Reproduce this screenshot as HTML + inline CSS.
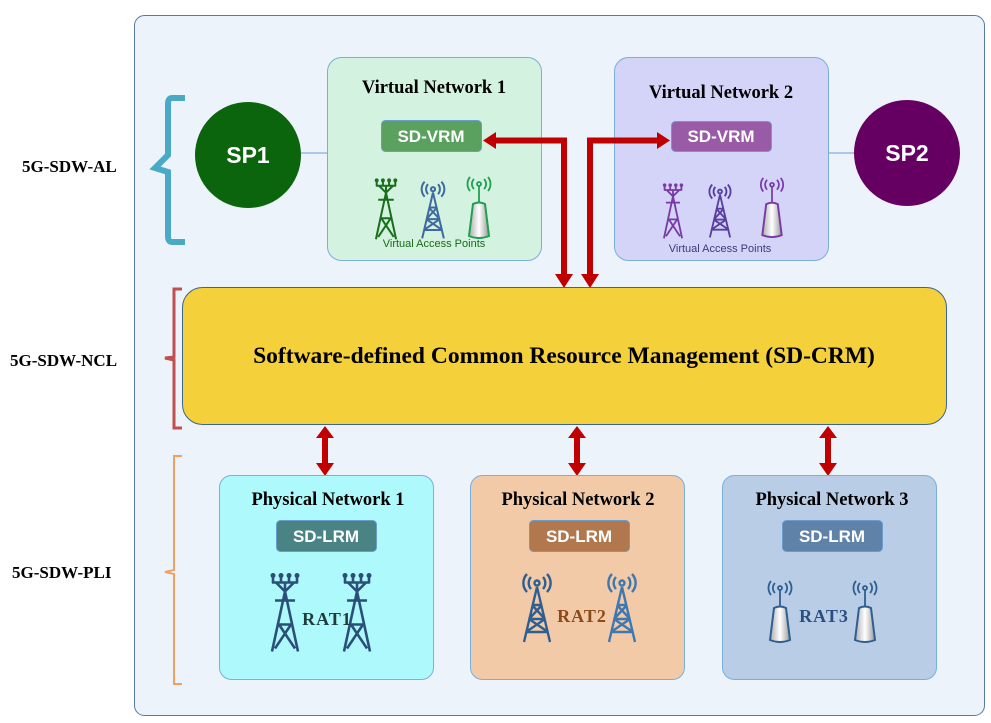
<!DOCTYPE html>
<html><head><meta charset="utf-8"><style>
html,body{margin:0;padding:0;background:#fff}
svg{display:block}
.t{font-family:"Liberation Serif",serif;font-weight:bold}
.s{font-family:"Liberation Sans",sans-serif;font-weight:bold;fill:#fff}
</style></head><body>
<svg width="991" height="723" viewBox="0 0 991 723" xmlns="http://www.w3.org/2000/svg">
<defs>
<symbol id="lat" viewBox="0 0 30 80">
 <g fill="none" stroke="currentColor" stroke-width="2.6" stroke-linejoin="round">
  <path d="M3 3V10H27V3M11 3V10M19 3V10M6 10L15 19L24 10M15 10V28M5 28H25M15 19L2 79M15 19L28 79M9 52L25 76M21 52L5 76M8 52H22"/>
 </g>
 <g fill="currentColor"><circle cx="3" cy="3" r="2.5"/><circle cx="11" cy="3" r="2.5"/><circle cx="19" cy="3" r="2.5"/><circle cx="27" cy="3" r="2.5"/></g>
</symbol>
<symbol id="rad" viewBox="0 0 34 72">
 <g fill="none" stroke="currentColor" stroke-width="2.4" stroke-linejoin="round">
  <circle cx="17" cy="11" r="2.5"/>
  <path d="M11 5A9 9 0 0 0 11 17M23 5A9 9 0 0 1 23 17M7 2A13 13 0 0 0 7 20M27 2A13 13 0 0 1 27 20"/>
  <path d="M17 15L4 70M17 15L30 70M12 33H22M9 47H25M6 60H28M12 33L25 47M22 33L9 47M9 47L28 60M25 47L6 60"/>
 </g>
</symbol>
<linearGradient id="rg" x1="0" x2="1"><stop offset="0" stop-color="#aaa"/><stop offset=".5" stop-color="#fff"/><stop offset="1" stop-color="#999"/></linearGradient>
<symbol id="rtr" viewBox="0 0 26 64">
 <g fill="none" stroke="currentColor" stroke-width="1.8">
  <circle cx="13" cy="8" r="2"/>
  <path d="M8 3A7 7 0 0 0 8 13M18 3A7 7 0 0 1 18 13M4 1A11 11 0 0 0 4 15M22 1A11 11 0 0 1 22 15"/>
  <path d="M13 10V28"/>
 </g>
 <path d="M7 28Q13 25 19 28L23 60Q13 64 3 60Z" fill="url(#rg)" stroke="currentColor" stroke-width="2"/>
</symbol>
</defs>

<rect x="134.5" y="15.5" width="850" height="700" rx="10" fill="#edf3fb" stroke="#557aa6"/>

<text class="t" x="22" y="172" font-size="17">5G-SDW-AL</text>
<text class="t" x="10" y="366" font-size="17">5G-SDW-NCL</text>
<text class="t" x="12" y="578" font-size="17">5G-SDW-PLI</text>

<path d="M185 98H172Q168 98 168 104V155L155 168L168 172V236Q168 242 172 242H185" fill="none" stroke="#4aaac6" stroke-width="6"/>
<path d="M182 289H174V357L165 358L174 360V428H182" fill="none" stroke="#c05050" stroke-width="3"/>
<path d="M182 456H174V570L165 572L174 574V684H182" fill="none" stroke="#f0a060" stroke-width="2"/>

<line x1="300" y1="153" x2="328" y2="153" stroke="#6a9ccc"/>
<line x1="826" y1="153" x2="855" y2="153" stroke="#6a9ccc"/>

<rect x="327.5" y="57.5" width="214" height="203" rx="14" fill="#d3f2df" stroke="#7aaedb"/>
<rect x="614.5" y="57.5" width="214" height="203" rx="14" fill="#d4d4f9" stroke="#7aaedb"/>
<text class="t" x="434" y="93" font-size="18.5" text-anchor="middle">Virtual Network 1</text>
<text class="t" x="721" y="98" font-size="18.5" text-anchor="middle">Virtual Network 2</text>
<rect x="381.5" y="120.5" width="100" height="31" rx="4" fill="#5aa05e" stroke="#6a9ccc"/>
<text class="s" x="431" y="142" font-size="17" text-anchor="middle">SD-VRM</text>
<rect x="671.5" y="121.5" width="100" height="30" rx="4" fill="#995aa6" stroke="#6a9ccc"/>
<text class="s" x="721" y="142" font-size="17" text-anchor="middle">SD-VRM</text>

<use href="#lat" x="372" y="178" width="28" height="62" style="color:#1b6e1b"/>
<use href="#rad" x="418" y="180" width="30" height="60" style="color:#3f6aa0"/>
<use href="#rtr" x="466" y="176" width="26" height="64" style="color:#1fa050"/>
<text x="434" y="247" font-size="11" text-anchor="middle" fill="#1a6a1a" font-family="Liberation Sans,sans-serif">Virtual Access Points</text>
<use href="#lat" x="660" y="183" width="26" height="56" style="color:#7a3aa6"/>
<use href="#rad" x="705" y="183" width="30" height="56" style="color:#5a3fa0"/>
<use href="#rtr" x="759" y="177" width="26" height="62" style="color:#7a3aa6"/>
<text x="720" y="252" font-size="11" text-anchor="middle" fill="#3a3a7a" font-family="Liberation Sans,sans-serif">Virtual Access Points</text>

<circle cx="248" cy="155" r="53" fill="#0a650d"/>
<text class="s" x="248" y="163" font-size="23" text-anchor="middle">SP1</text>
<circle cx="907" cy="153" r="53" fill="#650062"/>
<text class="s" x="907" y="161" font-size="23" text-anchor="middle">SP2</text>

<g fill="#c00000" stroke="none">
 <path d="M494 137.5H567V277H561V143.5H494Z"/>
 <path d="M483 140.5L496 132V149Z"/>
 <path d="M555 274H573L564 288Z"/>
 <path d="M587 137.5H658V143.5H593V277H587Z"/>
 <path d="M670 140.5L657 132V149Z"/>
 <path d="M581 274H599L590 288Z"/>
</g>

<rect x="182.5" y="287.5" width="764" height="137" rx="20" fill="#f4d03a" stroke="#3b6690"/>
<text class="t" x="564" y="363" font-size="23.5" text-anchor="middle">Software-defined Common Resource Management (SD-CRM)</text>

<g fill="#c00000">
 <path d="M322 436H328V465H322Z"/><path d="M316 438L325 426L334 438Z"/><path d="M316 463L325 476L334 463Z"/>
 <path d="M574 436H580V465H574Z"/><path d="M568 438L577 426L586 438Z"/><path d="M568 463L577 476L586 463Z"/>
 <path d="M825 436H831V465H825Z"/><path d="M819 438L828 426L837 438Z"/><path d="M819 463L828 476L837 463Z"/>
</g>

<rect x="219.5" y="475.5" width="214" height="204" rx="12" fill="#aef9fc" stroke="#7aaedb"/>
<rect x="470.5" y="475.5" width="214" height="204" rx="12" fill="#f2caa8" stroke="#7aaedb"/>
<rect x="722.5" y="475.5" width="214" height="204" rx="12" fill="#b9cde7" stroke="#7aaedb"/>
<text class="t" x="328" y="505" font-size="18.5" text-anchor="middle">Physical Network 1</text>
<text class="t" x="578" y="505" font-size="18.5" text-anchor="middle">Physical Network 2</text>
<text class="t" x="832" y="505" font-size="18.5" text-anchor="middle">Physical Network 3</text>

<rect x="276.5" y="520.5" width="100" height="31" rx="4" fill="#4a8383" stroke="#6a9ccc"/>
<text class="s" x="326" y="542" font-size="17" text-anchor="middle">SD-LRM</text>
<rect x="529.5" y="520.5" width="100" height="31" rx="4" fill="#b0784c" stroke="#6a9ccc"/>
<text class="s" x="579" y="542" font-size="17" text-anchor="middle">SD-LRM</text>
<rect x="782.5" y="520.5" width="100" height="31" rx="4" fill="#5e82a8" stroke="#6a9ccc"/>
<text class="s" x="832" y="542" font-size="17" text-anchor="middle">SD-LRM</text>

<use href="#lat" x="270" y="570" width="30" height="85" style="color:#2a4f78"/>
<use href="#lat" x="342" y="570" width="30" height="85" style="color:#2a4f78"/>
<text class="t" x="327" y="625" font-size="18" text-anchor="middle" fill="#1f3b3b" letter-spacing="1">RAT1</text>
<use href="#rad" x="519" y="572" width="36" height="72" style="color:#2f5f90"/>
<use href="#rad" x="604" y="572" width="36" height="72" style="color:#3f78b0"/>
<text class="t" x="582" y="622" font-size="18" text-anchor="middle" fill="#8a4a1a" letter-spacing="1">RAT2</text>
<use href="#rtr" x="766" y="580" width="28" height="64" style="color:#2f5f90"/>
<use href="#rtr" x="851" y="580" width="28" height="64" style="color:#2f5f90"/>
<text class="t" x="824" y="622" font-size="18" text-anchor="middle" fill="#2a4f80" letter-spacing="1">RAT3</text>
</svg>
</body></html>
